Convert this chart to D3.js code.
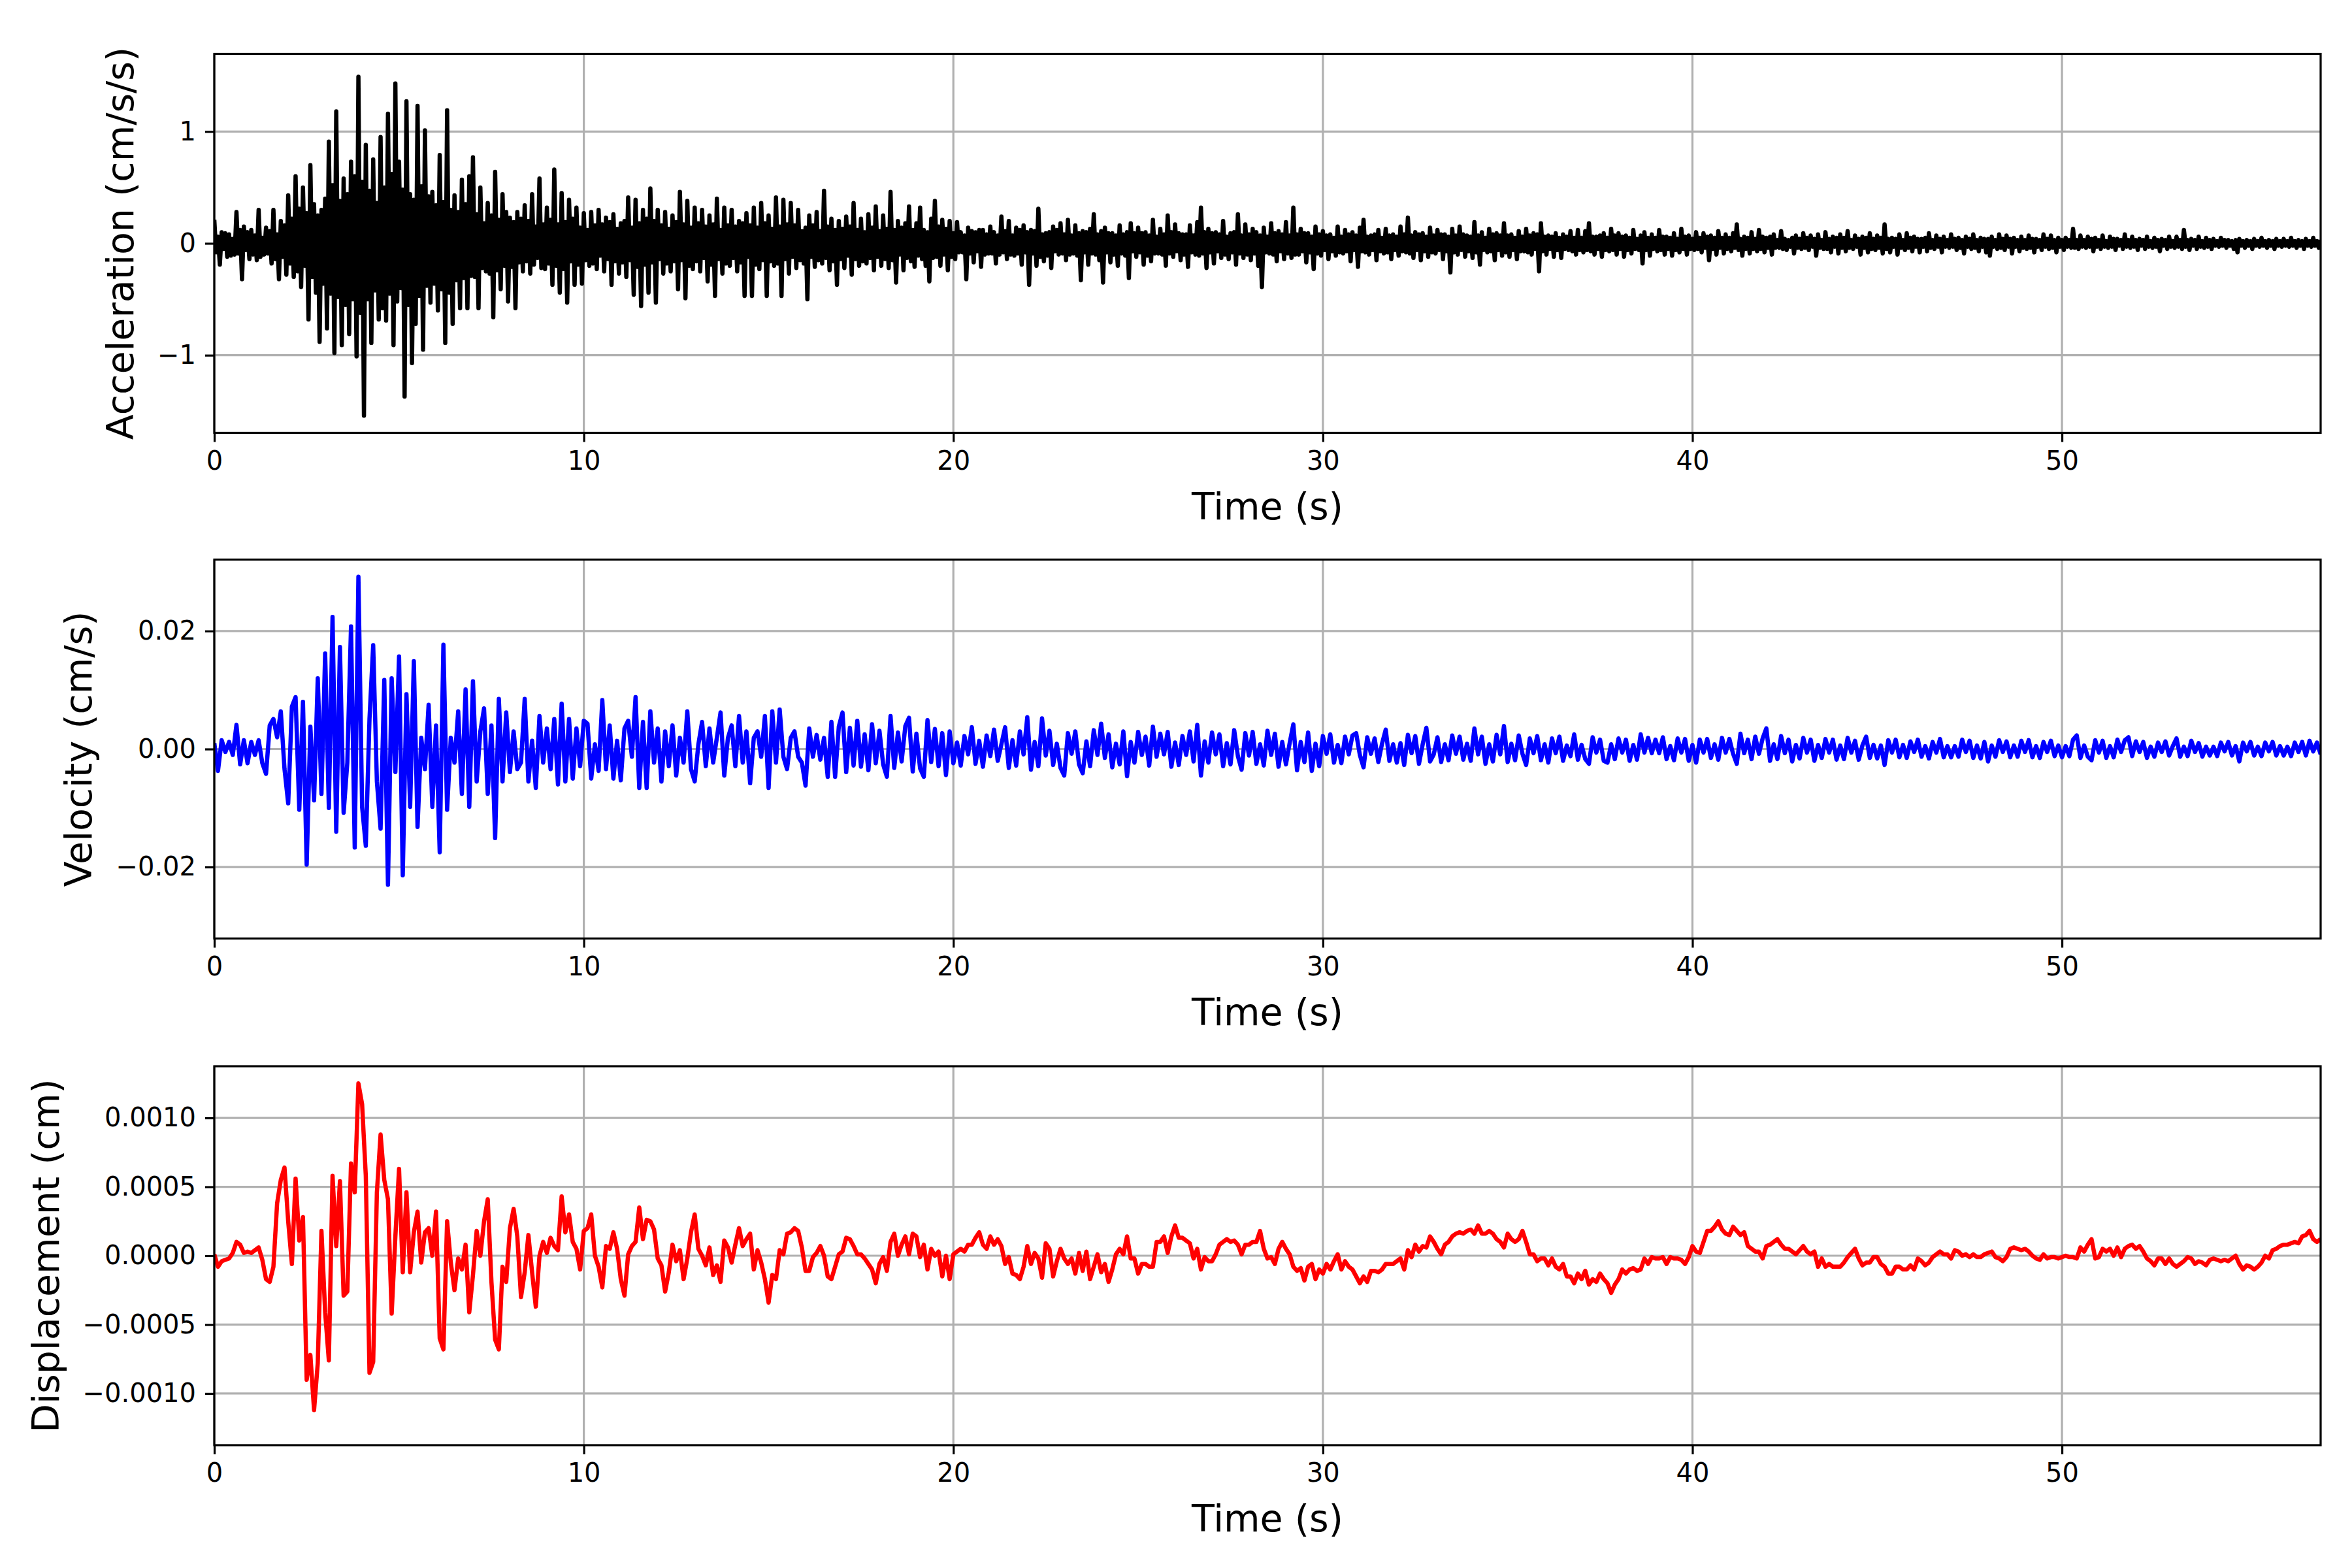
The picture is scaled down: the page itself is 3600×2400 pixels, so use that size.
<!DOCTYPE html>
<html>
<head>
<meta charset="utf-8">
<title>Acceleration, velocity and displacement</title>
<script src="https://d3js.org/d3.v7.min.js"></script>
<style>
  body { margin: 0; background: #ffffff; }
  svg text { font-family: "DejaVu Sans", sans-serif; fill: #000000; }
</style>
</head>
<body>
<script>
// time axis runs 0..tEnd seconds
var tEnd = 57;
var timeTicks = [0, 10, 20, 30, 40, 50];

// acceleration in cm/s/s, sampled every 0.05 s, one row per second
var accDt = 0.05;
var acceleration = [
  0.21,-0.08, 0.06,-0.19, 0.10,-0.05, 0.09,-0.12, 0.08,-0.11, 0.04,-0.10, 0.28,-0.09, 0.12,-0.32, 0.15,-0.06, 0.10,-0.14,
  0.12,-0.10, 0.07,-0.15, 0.30,-0.12, 0.05,-0.10, 0.14,-0.09, 0.11,-0.18, 0.30,-0.14, 0.08,-0.32, 0.20,-0.12, 0.16,-0.28,
  0.43,-0.18, 0.22,-0.30, 0.60,-0.25, 0.31,-0.39, 0.50,-0.20, 0.27,-0.68, 0.70,-0.30, 0.35,-0.44, 0.25,-0.88, 0.30,-0.36,
  0.40,-0.76, 0.91,-0.45, 0.52,-0.98, 1.18,-0.48, 0.38,-0.91, 0.58,-0.55, 0.44,-0.81, 0.73,-0.50, 0.60,-1.01, 1.49,-0.62,
  0.55,-1.54, 0.88,-0.50, 0.47,-0.89, 0.75,-0.42, 0.36,-0.68, 0.95,-0.58, 0.50,-0.69, 1.16,-0.45, 0.62,-0.91, 1.43,-0.52,
  0.73,-0.40, 0.48,-1.37, 1.27,-0.55, 0.44,-1.07, 0.39,-0.72, 1.23,-0.47, 0.51,-0.95, 1.01,-0.38, 0.42,-0.53, 0.46,-0.36,
  0.34,-0.60, 0.79,-0.41, 0.37,-0.89, 1.19,-0.44, 0.30,-0.72, 0.43,-0.33, 0.28,-0.58, 0.57,-0.31, 0.35,-0.58, 0.60,-0.29,
  0.77,-0.30, 0.26,-0.58, 0.50,-0.22, 0.18,-0.25, 0.36,-0.27, 0.25,-0.66, 0.64,-0.24, 0.21,-0.41, 0.44,-0.20, 0.28,-0.52,
  0.23,-0.21, 0.19,-0.58, 0.28,-0.17, 0.22,-0.25, 0.34,-0.16, 0.20,-0.27, 0.44,-0.19, 0.15,-0.13, 0.58,-0.22, 0.17,-0.23,
  0.32,-0.18, 0.21,-0.37, 0.66,-0.20, 0.17,-0.44, 0.45,-0.23, 0.19,-0.53, 0.39,-0.16, 0.22,-0.37, 0.32,-0.19, 0.14,-0.36,
  0.27,-0.15, 0.12,-0.20, 0.28,-0.18, 0.16,-0.23, 0.30,-0.11, 0.17,-0.25, 0.23,-0.14, 0.19,-0.37, 0.26,-0.16, 0.13,-0.27,
  0.18,-0.17, 0.20,-0.30, 0.41,-0.15, 0.14,-0.46, 0.39,-0.21, 0.18,-0.56, 0.30,-0.19, 0.22,-0.44, 0.49,-0.17, 0.20,-0.53,
  0.30,-0.14, 0.16,-0.27, 0.28,-0.18, 0.13,-0.25, 0.25,-0.16, 0.19,-0.41, 0.46,-0.15, 0.17,-0.49, 0.38,-0.20, 0.14,-0.23,
  0.32,-0.16, 0.18,-0.25, 0.30,-0.13, 0.15,-0.34, 0.25,-0.19, 0.17,-0.47, 0.40,-0.14, 0.12,-0.27, 0.32,-0.18, 0.16,-0.20,
  0.30,-0.13, 0.15,-0.25, 0.20,-0.17, 0.18,-0.47, 0.27,-0.12, 0.16,-0.47, 0.32,-0.19, 0.14,-0.23, 0.36,-0.15, 0.18,-0.47,
  0.25,-0.16, 0.13,-0.20, 0.41,-0.18, 0.15,-0.47, 0.39,-0.14, 0.17,-0.27, 0.36,-0.12, 0.16,-0.22, 0.30,-0.15, 0.11,-0.18,
  0.14,-0.50, 0.25,-0.12, 0.16,-0.21, 0.28,-0.15, 0.11,-0.18, 0.47,-0.13, 0.15,-0.24, 0.22,-0.16, 0.12,-0.37, 0.20,-0.14,
  0.13,-0.22, 0.24,-0.11, 0.15,-0.28, 0.36,-0.14, 0.12,-0.20, 0.22,-0.16, 0.10,-0.18, 0.26,-0.13, 0.14,-0.24, 0.33,-0.12,
  0.11,-0.20, 0.25,-0.14, 0.13,-0.22, 0.46,-0.15, 0.12,-0.35, 0.20,-0.10, 0.14,-0.24, 0.18,-0.13, 0.33,-0.16, 0.12,-0.21,
  0.18,-0.11, 0.32,-0.14, 0.12,-0.20, 0.10,-0.34, 0.22,-0.13, 0.38,-0.12, 0.15,-0.20, 0.21,-0.10, 0.13,-0.24, 0.20,-0.12,
  0.09,-0.14, 0.19,-0.08, 0.10,-0.08, 0.07,-0.32, 0.14,-0.09, 0.11,-0.17, 0.10,-0.07, 0.12,-0.21, 0.12,-0.10, 0.08,-0.09,
  0.15,-0.09, 0.10,-0.18, 0.07,-0.10, 0.24,-0.08, 0.11,-0.14, 0.20,-0.10, 0.07,-0.11, 0.14,-0.09, 0.12,-0.19, 0.16,-0.08,
  0.10,-0.37, 0.12,-0.09, 0.11,-0.20, 0.31,-0.12, 0.08,-0.16, 0.09,-0.11, 0.10,-0.22, 0.15,-0.07, 0.12,-0.10, 0.18,-0.09,
  0.08,-0.15, 0.21,-0.10, 0.07,-0.09, 0.16,-0.11, 0.09,-0.33, 0.11,-0.08, 0.10,-0.19, 0.13,-0.09, 0.26,-0.10, 0.08,-0.15,
  0.11,-0.35, 0.14,-0.08, 0.09,-0.17, 0.09,-0.10, 0.07,-0.20, 0.16,-0.09, 0.08,-0.11, 0.10,-0.31, 0.18,-0.07, 0.09,-0.12,
  0.14,-0.08, 0.09,-0.19, 0.10,-0.11, 0.07,-0.16, 0.21,-0.09, 0.06,-0.09, 0.13,-0.10, 0.08,-0.20, 0.25,-0.09, 0.10,-0.12,
  0.17,-0.07, 0.09,-0.15, 0.08,-0.10, 0.08,-0.21, 0.16,-0.08, 0.07,-0.10, 0.19,-0.11, 0.32,-0.09, 0.10,-0.22, 0.13,-0.08,
  0.09,-0.18, 0.10,-0.07, 0.08,-0.13, 0.20,-0.10, 0.06,-0.14, 0.09,-0.08, 0.10,-0.19, 0.26,-0.09, 0.07,-0.13, 0.17,-0.10,
  0.08,-0.15, 0.13,-0.09, 0.10,-0.20, 0.07,-0.39, 0.14,-0.08, 0.06,-0.09, 0.18,-0.10, 0.09,-0.16, 0.11,-0.07, 0.08,-0.14,
  0.19,-0.09, 0.07,-0.13, 0.32,-0.10, 0.08,-0.10, 0.13,-0.07, 0.09,-0.17, 0.09,-0.08, 0.06,-0.23, 0.15,-0.09, 0.08,-0.11,
  0.11,-0.06, 0.07,-0.14, 0.08,-0.07, 0.05,-0.11, 0.15,-0.08, 0.06,-0.09, 0.12,-0.07, 0.08,-0.16, 0.10,-0.06, 0.07,-0.21,
  0.14,-0.07, 0.21,-0.08, 0.06,-0.10, 0.07,-0.06, 0.08,-0.15, 0.12,-0.07, 0.05,-0.09, 0.13,-0.08, 0.07,-0.14, 0.08,-0.06,
  0.06,-0.11, 0.15,-0.07, 0.08,-0.08, 0.23,-0.09, 0.07,-0.13, 0.10,-0.06, 0.08,-0.15, 0.09,-0.07, 0.06,-0.12, 0.14,-0.08,
  0.07,-0.09, 0.12,-0.06, 0.08,-0.14, 0.08,-0.07, 0.06,-0.26, 0.13,-0.08, 0.07,-0.10, 0.15,-0.06, 0.08,-0.12, 0.07,-0.07,
  0.06,-0.13, 0.19,-0.08, 0.07,-0.19, 0.10,-0.06, 0.05,-0.08, 0.13,-0.07, 0.08,-0.15, 0.09,-0.06, 0.07,-0.11, 0.18,-0.08,
  0.07,-0.12, 0.08,-0.06, 0.05,-0.14, 0.11,-0.07, 0.06,-0.07, 0.13,-0.08, 0.07,-0.10, 0.09,-0.05, 0.08,-0.25, 0.18,-0.07,
  0.06,-0.10, 0.07,-0.05, 0.06,-0.12, 0.09,-0.06, 0.05,-0.13, 0.08,-0.05, 0.06,-0.06, 0.11,-0.07, 0.05,-0.10, 0.12,-0.06,
  0.05,-0.08, 0.11,-0.06, 0.18,-0.07, 0.06,-0.10, 0.06,-0.05, 0.07,-0.12, 0.09,-0.06, 0.05,-0.07, 0.13,-0.06, 0.07,-0.10,
  0.09,-0.05, 0.06,-0.12, 0.07,-0.06, 0.05,-0.09, 0.12,-0.05, 0.04,-0.06, 0.07,-0.18, 0.10,-0.06, 0.05,-0.11, 0.08,-0.05,
  0.05,-0.07, 0.12,-0.06, 0.06,-0.10, 0.06,-0.05, 0.05,-0.11, 0.09,-0.06, 0.04,-0.08, 0.13,-0.05, 0.06,-0.10, 0.07,-0.05,
  0.04,-0.06, 0.10,-0.05, 0.05,-0.08, 0.09,-0.04, 0.06,-0.15, 0.07,-0.05, 0.05,-0.10, 0.11,-0.04, 0.05,-0.09, 0.08,-0.05,
  0.05,-0.07, 0.09,-0.04, 0.17,-0.06, 0.04,-0.11, 0.06,-0.05, 0.05,-0.09, 0.10,-0.05, 0.04,-0.07, 0.12,-0.05, 0.06,-0.08,
  0.05,-0.04, 0.06,-0.10, 0.08,-0.04, 0.03,-0.04, 0.11,-0.05, 0.04,-0.06, 0.03,-0.03, 0.05,-0.09, 0.07,-0.04, 0.04,-0.05,
  0.09,-0.04, 0.05,-0.06, 0.07,-0.03, 0.04,-0.11, 0.08,-0.04, 0.03,-0.05, 0.10,-0.05, 0.04,-0.08, 0.06,-0.03, 0.05,-0.09,
  0.08,-0.04, 0.05,-0.07, 0.11,-0.04, 0.03,-0.05, 0.07,-0.03, 0.04,-0.10, 0.06,-0.04, 0.05,-0.08, 0.09,-0.05, 0.04,-0.06,
  0.07,-0.04, 0.05,-0.09, 0.17,-0.05, 0.04,-0.08, 0.05,-0.03, 0.04,-0.10, 0.08,-0.04, 0.03,-0.06, 0.09,-0.04, 0.05,-0.07,
  0.06,-0.03, 0.04,-0.08, 0.04,-0.03, 0.05,-0.07, 0.09,-0.04, 0.03,-0.05, 0.07,-0.03, 0.04,-0.08, 0.06,-0.03, 0.03,-0.04,
  0.08,-0.03, 0.04,-0.06, 0.05,-0.04, 0.03,-0.09, 0.06,-0.03, 0.04,-0.05, 0.08,-0.04, 0.03,-0.07, 0.05,-0.03, 0.04,-0.08,
  0.04,-0.11, 0.06,-0.03, 0.03,-0.05, 0.08,-0.04, 0.04,-0.06, 0.07,-0.03, 0.04,-0.09, 0.05,-0.03, 0.03,-0.07, 0.06,-0.04,
  0.03,-0.05, 0.07,-0.04, 0.04,-0.08, 0.04,-0.03, 0.03,-0.06, 0.08,-0.03, 0.04,-0.05, 0.07,-0.04, 0.03,-0.08, 0.05,-0.03,
  0.03,-0.06, 0.05,-0.03, 0.03,-0.04, 0.13,-0.04, 0.03,-0.05, 0.07,-0.03, 0.03,-0.04, 0.06,-0.03, 0.04,-0.07, 0.05,-0.03,
  0.03,-0.05, 0.07,-0.03, 0.02,-0.04, 0.06,-0.03, 0.04,-0.06, 0.04,-0.02, 0.03,-0.05, 0.08,-0.03, 0.03,-0.04, 0.06,-0.03,
  0.03,-0.06, 0.04,-0.02, 0.03,-0.05, 0.06,-0.03, 0.02,-0.04, 0.05,-0.03, 0.03,-0.07, 0.04,-0.02, 0.03,-0.05, 0.06,-0.03,
  0.02,-0.04, 0.06,-0.03, 0.03,-0.05, 0.12,-0.03, 0.03,-0.06, 0.04,-0.02, 0.03,-0.05, 0.06,-0.03, 0.02,-0.04, 0.05,-0.03,
  0.03,-0.05, 0.04,-0.02, 0.02,-0.03, 0.05,-0.02, 0.03,-0.04, 0.03,-0.02, 0.02,-0.05, 0.03,-0.08, 0.04,-0.02, 0.02,-0.04,
  0.03,-0.02, 0.02,-0.05, 0.04,-0.02, 0.02,-0.03, 0.05,-0.02, 0.02,-0.04, 0.03,-0.02, 0.02,-0.05, 0.04,-0.02, 0.02,-0.03,
  0.04,-0.02, 0.02,-0.03, 0.05,-0.02, 0.02,-0.04, 0.03,-0.02, 0.02,-0.05, 0.04,-0.02, 0.02,-0.03, 0.05,-0.02, 0.02,-0.04,
  0.03
];

// velocity in 1e-3 cm/s, sampled every 0.1 s, one row per second
var velDt = 0.1;
var velocityMilli = [
  1.0, -3.7, 1.5, -0.5, 1.2, -1.0, 4.1, -2.6, 1.5, -2.4,
  1.2, -1.0, 1.5, -2.4, -4.2, 4.0, 5.1, 2.0, 6.4, -3.4,
  -9.2, 7.2, 8.8, -10.3, 8.0, -19.6, 3.8, -8.7, 12.0, -7.6,
  16.2, -10.0, 22.4, -14.0, 17.3, -10.8, -2.3, 20.8, -16.7, 29.2,
  -9.8, -16.4, 5.1, 17.6, -5.5, -13.5, 11.7, -23.0, 12.0, -3.9,
  15.7, -21.4, 9.3, -9.8, 14.9, -13.2, 1.9, -3.4, 7.5, -9.8,
  4.0, -17.5, 17.7, -10.3, 1.9, -2.3, 6.4, -7.6, 10.1, -9.8,
  11.5, -5.5, 3.0, 6.9, -7.6, 4.0, -15.1, 8.5, -5.5, 6.2,
  -3.9, 3.0, -3.4, -2.3, 8.5, -5.5, 1.4, -6.6, 5.6, -2.3,
  3.5, -3.4, 5.1, -6.0, 7.7, -5.5, 5.1, -5.0, 3.5, -2.9,
  4.8, 4.3, -5.0, 0.8, -3.7, 8.3, -3.4, 4.0, -5.0, 1.4,
  -5.3, 3.5, 4.8, -1.3, 8.8, -6.6, 4.6, -6.6, 6.4, -2.3,
  3.5, -5.5, 3.0, -2.9, 4.0, -4.5, 1.9, -2.3, 6.4, -3.4,
  -5.5, 0.8, 4.6, -2.9, 3.5, -2.3, 1.9, 6.2, -4.5, 1.9,
  4.0, -2.9, 5.6, -2.3, 3.0, -5.8, 1.9, 3.0, -1.3, 5.6,
  -6.6, 6.4, -2.3, 6.7, -1.3, -3.4, 1.9, 3.0, -1.3, -2.3,
  -6.2, 3.5, -1.3, 2.4, -1.8, 1.9, -4.7, 4.6, -4.7, 3.8,
  6.2, -3.9, 3.6, -2.8, 4.8, -3.0, 2.5, -3.6, 4.2, -2.4,
  3.1, -2.6, -4.7, 5.6, -3.2, 2.8, -2.1, 3.9, 5.3, -3.8,
  2.6, -3.3, -4.7, 4.9, -2.2, 3.4, -2.9, 2.7, -4.4, 3.0,
  -2.4, 1.1, -2.8, 2.2, -0.9, 3.7, -2.5, 1.4, -3.0, 2.3,
  -1.2, 3.3, -2.0, 0.8, 3.7, -3.2, 1.5, -2.8, 3.0, -0.9,
  5.4, -3.5, 1.2, -2.9, 5.2, -1.1, 3.1, -2.7, 0.9, -3.2,
  -4.5, 2.7, -0.8, 3.0, -2.6, -4.1, 1.3, -2.9, 3.2, -1.0,
  4.3, -1.5, 2.5, -3.1, 0.9, -2.6, 3.0, -4.6, 1.2, -2.3,
  2.9, -1.0, 2.1, -2.8, 3.8, -1.3, 2.6, -0.9, 2.9, -3.0,
  1.1, -2.7, 2.2, -1.0, 3.0, -2.1, 4.1, -4.5, 1.3, -2.3,
  2.8, -0.9, 2.5, -2.9, 1.0, -2.6, 3.2, -1.2, -3.5, 2.7,
  -1.1, 2.9, -2.5, 0.8, -2.8, 3.1, -1.0, 2.6, -3.0, 1.2,
  -2.6, 1.0, 4.2, -3.6, 1.2, -2.2, 2.8, -3.7, 0.9, -2.9,
  2.2, -0.8, 2.5, -2.3, 0.7, -2.4, 2.1, -0.9, 2.3, 2.7,
  -1.0, -3.1, 2.0, -0.8, 1.8, -2.2, 0.9, 3.3, -2.0, 0.8,
  -2.3, 1.0, -2.7, 2.4, -0.7, 2.2, -2.5, 0.8, 3.6, -2.1,
  -0.9, 2.0, -2.2, 0.8, -1.9, 2.3, -0.8, 2.1, -1.8, 0.9,
  -2.0, 3.5, -0.9, 2.1, -2.5, 0.8, -2.1, 2.4, -0.9, 3.9,
  -2.2, 0.9, -1.9, 2.3, -0.8, -2.7, 1.8, -0.7, 2.2, -1.9,
  0.8, -2.3, 1.8, -0.7, 2.1, -2.0, 0.6, -1.2, 2.5, -1.8,
  0.7, -1.7, -2.5, 2.0, -0.6, 1.6, -2.0, -2.3, 0.8, -1.7,
  1.8, -0.6, 1.6, -2.0, 0.7, -1.8, 2.5, -0.6, 1.9, -0.7,
  1.6, -0.7, 2.0, -1.7, 0.5, -1.9, 1.8, -0.6, 1.7, -2.0,
  0.7, -2.3, 1.6, -0.6, 1.7, -1.5, 0.8, -1.8, 1.9, -0.6,
  1.7, -0.8, -2.5, 2.6, -0.7, 1.6, -1.7, 2.1, -0.8, 1.8,
  3.5, -2.0, 0.8, -1.7, 2.2, -0.7, 1.6, -2.1, 0.7, -1.6,
  1.9, -0.6, 1.6, -2.0, 0.7, -1.5, 1.7, -0.6, 1.6, -1.8,
  0.6, -1.7, 1.9, -0.6, 1.4, -1.8, 0.6, 2.1, -1.5, 0.7,
  -1.6, 0.6, -2.7, 1.5, -0.6, 1.6, -1.4, 0.7, -1.5, 1.3,
  -0.5, 1.6, -1.3, 0.5, -1.6, 1.2, -0.6, 1.7, -1.4, 0.5,
  -1.4, 0.5, -1.3, 1.6, -0.5, 1.4, -1.5, 0.6, -1.6, 1.2,
  -2.1, 0.6, -1.3, 1.5, -0.5, 1.3, -1.4, 0.6, -1.3, 1.4,
  -0.5, 1.5, -1.4, 0.5, -1.5, 1.2, -0.5, 1.4, -1.2, 0.6,
  -1.4, 0.5, -1.2, 1.6, 2.3, -1.5, 0.6, -1.3, -1.9, 1.5,
  -0.6, 1.4, -1.5, 0.5, -1.4, 1.6, -0.5, 1.5, 2.0, -1.2,
  1.3, -0.5, 1.2, -1.5, 0.4, -1.3, 1.1, -0.5, 1.3, -1.1,
  0.5, 1.8, -1.3, 0.4, -1.2, 1.4, -0.5, 1.0, -1.3, 0.4,
  -1.1, 0.4, -1.2, 1.1, -0.4, 1.2, -1.1, 0.5, -2.1, 1.1,
  -0.4, 1.2, -1.1, 0.4, -1.2, 1.1, -0.4, 1.2, -1.1, 0.5,
  -1.1, 0.4, -1.2, 1.1, -0.5, 1.2, -1.1, 1.4, -0.4, 1.1,
  -0.9
];

// displacement in 1e-4 cm, sampled every 0.1 s, one row per second
var dispDt = 0.1;
var displacementE4 = [
  0.1, -0.8, -0.4, -0.3, -0.2, 0.2, 1.0, 0.8, 0.2, 0.3,
  0.2, 0.4, 0.6, -0.3, -1.7, -1.9, -0.8, 3.8, 5.5, 6.4,
  2.5, -0.6, 5.6, 1.1, 2.8, -9.0, -7.2, -11.2, -7.8, 1.8,
  -4.1, -7.6, 5.8, 0.7, 5.4, -2.9, -2.6, 6.7, 4.6, 12.5,
  11.0, 5.8, -8.5, -7.7, 4.6, 8.8, 5.5, 4.1, -4.2, 1.4,
  6.3, -1.2, 4.6, -1.2, 1.7, 3.2, -0.5, 1.7, 2.0, 0.0,
  3.2, -6.0, -6.8, 2.5, -0.5, -2.5, -0.2, -1.0, 0.8, -4.1,
  -1.4, 1.8, 0.0, 2.5, 4.1, -1.9, -6.1, -6.8, -0.8, -1.9,
  2.0, 3.4, 1.4, -3.0, -1.2, 1.5, -1.2, -3.7, 0.0, 1.0,
  0.2, 1.3, 0.7, 0.4, 4.3, 1.7, 3.0, 1.0, 0.5, -1.0,
  1.8, 2.0, 3.0, 0.0, -0.8, -2.3, 0.7, 0.5, 1.7, 0.5,
  -1.7, -2.9, 0.1, 0.7, 1.0, 3.5, 1.2, 2.6, 2.5, 1.9,
  -0.2, -0.7, -2.6, -1.2, 0.8, -0.4, 0.4, -1.7, -0.2, 1.7,
  3.0, 0.5, 0.0, -0.7, 0.6, -1.4, -0.7, -1.9, 1.1, 0.6,
  -0.5, 0.8, 2.0, 0.7, 1.2, 1.6, -1.0, 0.4, -0.5, -1.7,
  -3.4, -1.4, -1.7, 0.4, 0.1, 1.6, 1.7, 2.0, 1.8, 0.6,
  -1.1, -1.1, -0.1, 0.2, 0.7, 0.0, -1.5, -1.7, -0.8, 0.1,
  0.3, 1.3, 1.2, 0.7, 0.1, 0.1, -0.2, -0.6, -1.0, -2.0,
  -0.6, -0.1, -1.1, 1.0, 1.6, 0.0, 0.8, 1.4, 0.1, 1.6,
  1.4, -0.1, 0.8, -1.0, 0.5, 0.0, 0.3, -1.5, 0.0, -1.7,
  0.1, 0.3, 0.5, 0.3, 0.8, 0.8, 1.3, 1.7, 0.8, 0.5,
  1.4, 0.8, 1.2, 0.7, -0.6, -0.1, -1.3, -1.4, -1.7, -0.8,
  0.7, -0.6, 0.2, -0.2, -1.6, 0.9, 0.5, -1.5, -0.4, 0.5,
  -0.2, -0.6, -0.2, -1.3, 0.2, -1.1, 0.3, -1.7, -0.8, 0.1,
  -1.2, -0.6, -1.9, -1.0, 0.1, 0.5, 0.1, 1.4, -0.2, -0.2,
  -1.3, -0.6, -0.6, -0.8, -0.8, 1.0, 1.0, 1.4, 0.2, 1.4,
  2.2, 1.3, 1.3, 1.1, 0.9, -0.2, 0.5, -1.0, -0.1, -0.4,
  -0.4, 0.1, 0.8, 1.0, 1.2, 1.0, 1.1, 0.8, 0.1, 0.8,
  0.8, 1.0, 1.0, 1.8, 0.5, -0.2, -0.1, -0.6, 0.5, 1.0,
  0.5, 0.1, -0.8, -1.1, -0.9, -1.8, -0.8, -0.6, -1.7, -1.0,
  -1.3, -0.6, -1.0, -0.4, 0.1, -1.0, -0.4, -0.8, -1.0, -1.5,
  -2.0, -1.5, -1.9, -1.1, -1.1, -1.2, -1.0, -0.6, -0.6, -0.6,
  -0.4, -0.2, -1.0, 0.4, -0.1, 0.8, 0.3, 0.7, 0.6, 1.4,
  1.0, 0.5, 0.1, 0.8, 1.0, 1.4, 1.6, 1.7, 1.6, 1.8,
  1.9, 1.6, 2.2, 1.6, 1.6, 1.8, 1.6, 1.2, 1.0, 0.6,
  1.6, 1.2, 1.0, 1.2, 1.8, 1.0, 0.1, 0.1, -0.4, -0.2,
  -0.2, -0.7, -0.2, -0.8, -1.0, -0.6, -1.5, -1.5, -2.0, -1.3,
  -1.7, -1.1, -2.1, -1.7, -1.9, -1.3, -1.7, -2.0, -2.7, -2.1,
  -1.7, -1.0, -1.3, -1.0, -0.9, -1.1, -1.0, -0.2, -0.6, -0.1,
  -0.2, -0.2, -0.1, -0.6, -0.1, -0.2, -0.2, -0.3, -0.6, -0.1,
  0.7, 0.3, 0.2, 1.0, 1.8, 1.8, 2.1, 2.5, 1.9, 1.6,
  1.5, 2.1, 1.8, 1.5, 1.7, 0.7, 0.5, 0.3, 0.3, -0.2,
  0.7, 0.8, 1.0, 1.2, 0.8, 0.5, 0.5, 0.3, 0.1, 0.4,
  0.7, 0.3, 0.1, 0.3, -0.8, -0.2, -0.8, -0.6, -0.8, -0.8,
  -0.8, -0.5, -0.1, 0.2, 0.5, -0.2, -0.7, -0.5, -0.5, -0.1,
  -0.1, -0.6, -0.8, -1.3, -1.3, -0.8, -0.8, -1.0, -1.0, -0.7,
  -1.0, -0.2, -0.4, -0.7, -0.5, -0.1, 0.1, 0.3, 0.1, 0.1,
  -0.2, 0.4, 0.3, 0.0, 0.1, -0.1, 0.1, -0.1, -0.1, 0.1,
  0.2, 0.3, -0.1, -0.2, -0.4, -0.1, 0.5, 0.6, 0.5, 0.4,
  0.5, 0.3, 0.0, -0.2, -0.3, 0.1, -0.2, -0.1, -0.1, -0.2,
  -0.1, 0.0, -0.1, -0.1, -0.2, 0.6, 0.3, 0.8, 1.2, -0.2,
  -0.1, 0.5, 0.3, 0.5, 0.0, 0.6, -0.1, 0.5, 0.7, 0.8,
  0.5, 0.7, 0.3, -0.2, -0.4, -0.7, -0.2, -0.2, -0.6, -0.2,
  -0.6, -0.8, -0.6, -0.4, -0.1, -0.2, -0.6, -0.4, -0.5, -0.7,
  -0.3, -0.2, -0.3, -0.4, -0.3, -0.4, -0.2, 0.0, -0.6, -1.0,
  -0.7, -0.8, -1.0, -0.8, -0.5, 0.0, -0.2, 0.4, 0.5, 0.7,
  0.8, 0.8, 0.9, 1.0, 0.9, 1.4, 1.5, 1.8, 1.2, 1.0,
  1.2
];

// y tick values of the three panels
var accTicks = [-1, 0, 1];
var velTicks = [-0.02, 0, 0.02];
var dispTicks = [-0.001, -0.0005, 0, 0.0005, 0.001];

// figure size and panel frame
var width = 3600;
var height = 2400;
var left = 328;
var right = 3552;
var panelH = 580;
var tops = [82.5, 856.5, 1632];

var panels = [
  { label: "Acceleration (cm/s/s)", color: "#000000", dt: accDt,
    values: acceleration, ticks: accTicks, fmt: d3.format("d") },
  { label: "Velocity (cm/s)", color: "#0000ff", dt: velDt,
    values: velocityMilli.map(function(v){ return v / 1000; }), ticks: velTicks, fmt: d3.format(".2f") },
  { label: "Displacement (cm)", color: "#ff0000", dt: dispDt,
    values: displacementE4.map(function(v){ return v / 10000; }), ticks: dispTicks, fmt: d3.format(".4f") }
];

var svg = d3.select("body")
  .append("svg")
  .attr("width", width)
  .attr("height", height);

svg.append("rect").attr("width", width).attr("height", height).attr("fill", "#ffffff");

var x = d3.scaleLinear().domain([0, tEnd]).range([left, right]);

panels.forEach(function(p, k) {
  var top = tops[k];
  var bottom = top + panelH;
  // symmetric limits, 10% above the largest amplitude
  var m = d3.max(p.values, function(v){ return Math.abs(v); }) * 1.1;
  var y = d3.scaleLinear().domain([-m, m]).range([bottom, top]);

  var g = svg.append("g");

  // grid
  g.selectAll("line.vgrid").data(timeTicks).enter().append("line")
    .attr("x1", function(d){ return x(d); }).attr("x2", function(d){ return x(d); })
    .attr("y1", top).attr("y2", bottom)
    .attr("stroke", "#b0b0b0").attr("stroke-width", 3.2);
  g.selectAll("line.hgrid").data(p.ticks).enter().append("line")
    .attr("x1", left).attr("x2", right)
    .attr("y1", function(d){ return y(d); }).attr("y2", function(d){ return y(d); })
    .attr("stroke", "#b0b0b0").attr("stroke-width", 3.2);

  // the trace, clipped to the panel
  var clipId = "clip" + k;
  svg.append("clipPath").attr("id", clipId)
    .append("rect").attr("x", left).attr("y", top)
    .attr("width", right - left).attr("height", panelH);

  var line = d3.line()
    .x(function(d, i){ return x(i * p.dt); })
    .y(function(d){ return y(d); });

  g.append("path")
    .datum(p.values)
    .attr("clip-path", "url(#" + clipId + ")")
    .attr("fill", "none")
    .attr("stroke", p.color)
    .attr("stroke-width", 6.5)
    .attr("stroke-linejoin", "round")
    .attr("d", line);

  // axes
  var xAxis = g.append("g")
    .attr("transform", "translate(0," + bottom + ")")
    .call(d3.axisBottom(x).tickValues(timeTicks).tickFormat(d3.format("d")).tickSize(14).tickPadding(14));
  var yAxis = g.append("g")
    .attr("transform", "translate(" + left + ",0)")
    .call(d3.axisLeft(y).tickValues(p.ticks).tickFormat(p.fmt).tickSize(14).tickPadding(14));

  [xAxis, yAxis].forEach(function(a) {
    a.attr("font-size", 40).attr("font-family", "DejaVu Sans");
    a.select(".domain").remove();
    a.selectAll(".tick line").attr("stroke", "#000000").attr("stroke-width", 3.2);
    a.selectAll(".tick text").attr("fill", "#000000");
  });

  // frame
  g.append("rect")
    .attr("x", left).attr("y", top)
    .attr("width", right - left).attr("height", panelH)
    .attr("fill", "none").attr("stroke", "#000000").attr("stroke-width", 3.2);

  // axis titles
  g.append("text")
    .attr("x", (left + right) / 2)
    .attr("y", bottom + 132)
    .attr("text-anchor", "middle")
    .attr("font-size", 57)
    .text("Time (s)");

  var tickBox = yAxis.node().getBBox();
  var labelX = left + tickBox.x - 37;
  g.append("text")
    .attr("transform", "translate(" + labelX + "," + (top + panelH / 2) + ") rotate(-90)")
    .attr("text-anchor", "middle")
    .attr("font-size", 57)
    .text(p.label);
});
</script>
</body>
</html>
